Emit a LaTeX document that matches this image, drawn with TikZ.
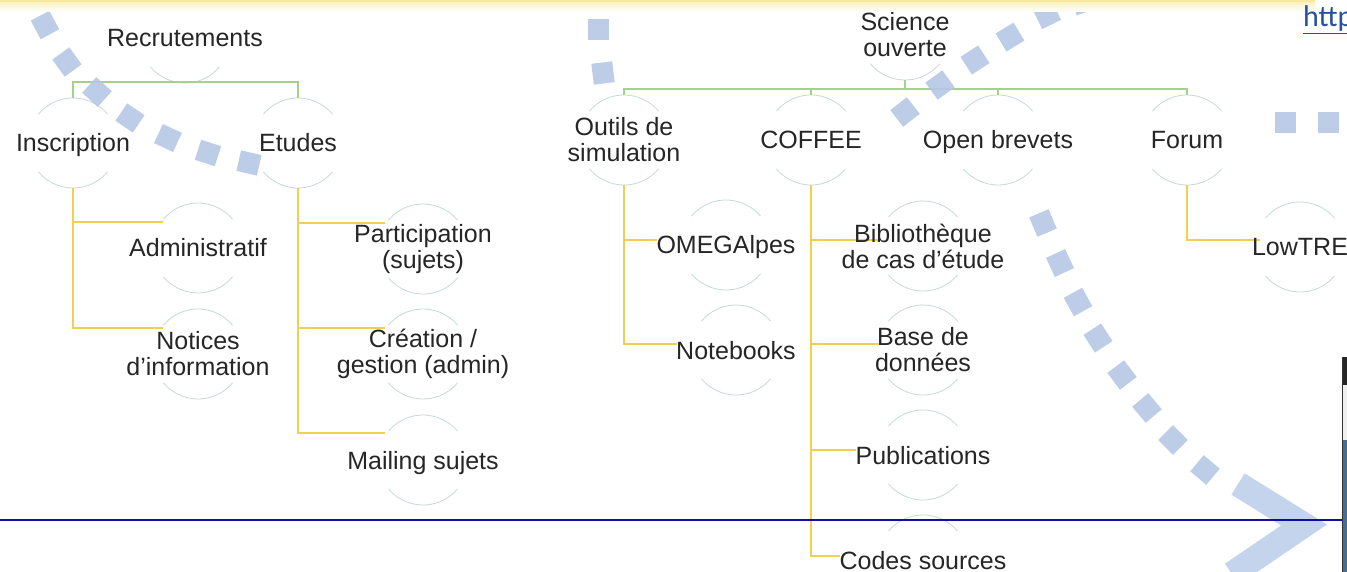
\documentclass[tikz,border=0pt]{standalone}
\usepackage{fontspec}
\setmainfont{Liberation Sans}
\newfontfamily\linkfont{Carlito}
\usetikzlibrary{calc}
\pgfdeclarelayer{bg}
\pgfsetlayers{bg,main}

\definecolor{txt}{RGB}{38,38,38}
\definecolor{ringc}{RGB}{200,216,218}
\definecolor{lvlone}{RGB}{168,208,141}
\definecolor{lvltwo}{RGB}{240,208,80}
\definecolor{dashc}{RGB}{182,200,230}
\definecolor{headc}{RGB}{196,212,236}
\definecolor{rulec}{RGB}{16,16,160}
\definecolor{linkc}{RGB}{40,80,160}
\definecolor{band}{RGB}{246,234,160}
\definecolor{steel}{RGB}{75,108,145}

\tikzset{
  lbl/.style={inner sep=0pt, align=center, text=txt, font=\fontsize{25}{26}\selectfont},
  one/.style={lbl, text height=18pt, text depth=0pt},
  ringline/.style={draw=ringc, line width=0.8pt},
  grn/.style={draw=lvlone, line width=2pt},
  ylw/.style={draw=lvltwo, line width=2.4pt},
  sq/.style={fill=dashc, fill opacity=0.9},
}

% faint upper and lower arcs around a label
\newcommand\ringof[1]{%
  \draw[ringline] ([shift={(40:45pt)}]#1.center) arc[start angle=40,end angle=140,radius=45pt];
  \draw[ringline] ([shift={(220:45pt)}]#1.center) arc[start angle=220,end angle=320,radius=45pt];}
% one square of the dotted arrow: x, y, heading (degrees, y downward)
\newcommand\tile[3]{%
  \fill[sq, rotate around={0-(#3):(#1,#2)}] (#1-10.5,#2-10.5) rectangle (#1+10.5,#2+10.5);}

\begin{document}
\begin{tikzpicture}[x=1pt,y=-1pt]
\useasboundingbox (0,0) rectangle (1347,572);
\clip (0,0) rectangle (1347,572);

% ---- labels ----
\node[one] (recr) at (185,38) {Recrutements};
\node[one] (insc) at (73,143) {Inscription};
\node[one] (etud) at (298,143) {Etudes};
\node[one] (admi) at (198,248) {Administratif};
\node[lbl] (noti) at (198,354) {Notices\\d’information};
\node[lbl] (part) at (423,249) {Participation\\(sujets)};
\node[lbl] (crea) at (423,354) {Création /\\gestion (admin)};
\node[one] (mail) at (423,460) {Mailing sujets};

\node[lbl] (scie) at (905,35) {Science\\ouverte};
\node[lbl] (outi) at (624,140) {Outils de\\simulation};
\node[one] (coff) at (811,140) {COFFEE};
\node[one] (open) at (998,140) {Open brevets};
\node[one] (foru) at (1187,140) {Forum};
\node[one] (omeg) at (726,245) {OMEGAlpes};
\node[one] (note) at (736,350) {Notebooks};
\node[lbl] (bibl) at (923,246) {Bibliothèque\\de cas d’étude};
\node[lbl] (base) at (923,350) {Base de\\données};
\node[one] (publ) at (923,455) {Publications};
\node[one] (code) at (923,560) {Codes sources};
\node[one] (lowt) at (1300,247) {LowTRE};

\begin{pgfonlayer}{bg}
  \fill[white] (0,0) rectangle (1347,572);
  % rings
  \foreach \n in {recr,insc,etud,admi,noti,part,crea,mail,scie,outi,coff,open,foru,omeg,note,bibl,base,publ,code,lowt}
    {\ringof{\n}}

  % first level connectors
  \draw[grn] ([yshift=-44pt]recr.center) -| ([yshift=45pt]insc.center);
  \draw[grn] ([yshift=-44pt]recr.center) -| ([yshift=45pt]etud.center);
  \foreach \c in {outi,coff,open,foru}
    \draw[grn] ([yshift=-45pt]scie.center) -- ++(0,9) -| ([yshift=45pt]\c.center);

  % second level connectors
  \draw[ylw] ([yshift=-45pt]insc.center) |- ([shift={(-35,-26)}]admi.center);
  \draw[ylw] ([yshift=-45pt]insc.center) |- ([shift={(-35,-26)}]noti.center);
  \draw[ylw] ([yshift=-45pt]etud.center) |- ([shift={(-38,-26)}]part.center);
  \draw[ylw] ([yshift=-45pt]etud.center) |- ([shift={(-38,-26)}]crea.center);
  \draw[ylw] ([yshift=-45pt]etud.center) |- ([shift={(-38,-27)}]mail.center);
  \draw[ylw] ([yshift=-45pt]outi.center) |- ([shift={(-69,-5)}]omeg.center);
  \draw[ylw] ([yshift=-45pt]outi.center) |- ([shift={(-59,-6)}]note.center);
  \draw[ylw] ([yshift=-45pt]coff.center) |- ([shift={(-44,-6)}]bibl.center);
  \draw[ylw] ([yshift=-45pt]coff.center) |- ([shift={(-44,-6)}]base.center);
  \draw[ylw] ([yshift=-45pt]coff.center) |- ([shift={(-67,-5)}]publ.center);
  \draw[ylw] ([yshift=-45pt]coff.center) |- ([shift={(-83,-4)}]code.center);
  \draw[ylw] ([yshift=-45pt]foru.center) |- ([shift={(-40,-7)}]lowt.center);

  % dotted arrow in the background
  \tile{45}{25}{62}  \tile{67}{62}{54}  \tile{97}{92}{42}  \tile{130}{118}{34}
  \tile{168}{138}{25} \tile{208}{153}{18} \tile{249}{163}{13}
  \tile{598}{30}{0}  \tile{603}{73}{83}
  \tile{905}{112}{-38} \tile{940}{85}{-36} \tile{975}{60}{-33}
  \tile{1010}{37}{-31} \tile{1047}{15}{-26} \tile{1083}{2}{-20}
  \tile{1285}{123}{0} \tile{1328}{123}{0}
  \tile{1043}{223}{67} \tile{1060}{263}{65} \tile{1078}{302}{61}
  \tile{1098}{338}{57} \tile{1122}{375}{53} \tile{1147}{408}{50}
  \tile{1173}{440}{45} \tile{1205}{470}{40}
  \draw[draw=headc, line width=25pt, miter limit=10] (1238,484) -- (1304,525) -- (1232,574);
\end{pgfonlayer}

% slide frame pieces
\fill[band] (0,0) rectangle (1315,2.5);
\shade[top color=band!60, bottom color=white] (0,2.5) rectangle (1315,12);
\draw[rulec, line width=1.5pt] (0,520) -- (1343,520);
\fill[black!85] (1342,357) rectangle (1347,385);
\fill[black!6] (1343,385) rectangle (1347,440);
\fill[steel] (1343,440) rectangle (1347,572);
\draw[black!80, line width=1pt] (1342.5,357) -- (1342.5,572);

\node[inner sep=0pt, anchor=base west, text=linkc, font=\linkfont\fontsize{30}{30}\selectfont] (link) at (1303,27) {\underline{http}};
\end{tikzpicture}
\end{document}
